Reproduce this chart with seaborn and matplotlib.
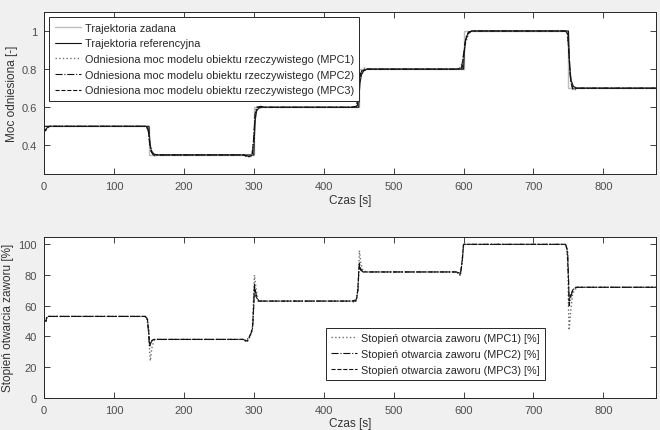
import numpy as np
import pandas as pd
import matplotlib
matplotlib.use("Agg")
import matplotlib.pyplot as plt
import seaborn as sns

# --- moc odniesiona (gorny wykres) ---
zad_t = [0, 150, 150, 300, 300, 450, 450, 600, 600, 750, 750, 875]
zad_v = [0.5, 0.5, 0.35, 0.35, 0.6, 0.6, 0.8, 0.8, 1.0, 1.0, 0.7, 0.7]

ref_t = [0, 150, 151, 152, 154, 157, 162, 300, 301, 302, 304, 307, 312,
         450, 451, 452, 454, 457, 462, 600, 601, 602, 604, 607, 612,
         750, 751, 752, 754, 757, 762, 875]
ref_v = [0.5, 0.5, 0.44, 0.40, 0.37, 0.355, 0.35, 0.35, 0.45, 0.53, 0.58, 0.595, 0.6,
         0.6, 0.68, 0.73, 0.77, 0.79, 0.8, 0.8, 0.88, 0.93, 0.97, 0.99, 1.0,
         1.0, 0.88, 0.8, 0.74, 0.71, 0.7, 0.7]

mpc1_t = [0, 3, 8, 145, 148, 150, 152, 155, 158, 165, 285, 292, 297, 300, 302, 305, 312,
          440, 446, 449, 451, 454, 458, 465, 590, 596, 600, 603, 607, 612,
          745, 748, 750, 752, 755, 758, 765, 875]
mpc1_v = [0.46, 0.48, 0.5, 0.5, 0.49, 0.46, 0.40, 0.36, 0.345, 0.35, 0.35, 0.338, 0.345, 0.40, 0.55, 0.605, 0.6,
          0.6, 0.605, 0.65, 0.74, 0.79, 0.805, 0.8, 0.8, 0.81, 0.86, 0.94, 0.985, 1.0,
          1.0, 0.99, 0.92, 0.8, 0.71, 0.69, 0.7, 0.7]

mpc2_t = [0, 2, 6, 146, 149, 151, 153, 156, 285, 293, 298, 300, 302, 304, 310, 316,
          440, 447, 450, 452, 455, 462, 590, 597, 600, 603, 607, 612,
          746, 749, 751, 753, 756, 762, 875]
mpc2_v = [0.47, 0.48, 0.5, 0.5, 0.48, 0.41, 0.37, 0.35, 0.35, 0.342, 0.35, 0.45, 0.57, 0.6, 0.605, 0.6,
          0.6, 0.605, 0.70, 0.77, 0.795, 0.8, 0.8, 0.805, 0.88, 0.96, 0.995, 1.0,
          1.0, 0.98, 0.86, 0.74, 0.695, 0.7, 0.7]

mpc3_t = [0, 3, 7, 146, 149, 151, 153, 157, 285, 291, 297, 300, 302, 305, 312,
          440, 448, 450, 452, 455, 462, 590, 598, 600, 603, 607, 612,
          746, 749, 751, 753, 756, 762, 875]
mpc3_v = [0.47, 0.485, 0.5, 0.5, 0.485, 0.42, 0.37, 0.35, 0.35, 0.34, 0.345, 0.43, 0.56, 0.6, 0.6,
          0.6, 0.605, 0.69, 0.76, 0.79, 0.8, 0.8, 0.805, 0.87, 0.95, 0.99, 1.0,
          1.0, 0.985, 0.87, 0.75, 0.7, 0.7, 0.7]

# --- stopien otwarcia zaworu (dolny wykres) ---
z1_t = [0, 1, 3, 5, 145, 148, 150, 151, 152, 154, 157, 160, 285, 290, 295, 298, 300, 301, 303, 306, 312,
        440, 445, 448, 450, 451, 453, 456, 462, 590, 595, 597, 599, 600,
        745, 748, 749, 750, 751, 753, 756, 762, 875]
z1_v = [57, 50, 50, 53, 53, 51, 44, 30, 24, 32, 37, 38, 38, 36, 40, 46, 70, 80, 72, 64, 63,
        63, 62, 66, 80, 96, 88, 83, 82, 82, 80, 85, 93, 100,
        100, 97, 90, 60, 44, 55, 68, 72, 72]

z2_t = [0, 1, 3, 4, 144, 147, 149, 150, 151, 153, 156, 285, 289, 294, 298, 299, 300, 301, 303, 306,
        440, 446, 449, 450, 451, 453, 456, 590, 595, 598, 600,
        746, 749, 750, 751, 753, 756, 760, 875]
z2_v = [53, 50, 50, 53, 53, 52, 45, 38, 33, 36, 38, 38, 37, 40, 44, 50, 62, 74, 68, 63,
        63, 63, 70, 80, 88, 84, 82, 82, 80, 88, 100,
        100, 95, 80, 60, 65, 70, 72, 72]

z3_t = [0, 1, 3, 4, 145, 148, 150, 151, 153, 157, 285, 291, 295, 298, 300, 301, 303, 307,
        440, 447, 449, 450, 451, 453, 457, 590, 596, 598, 600,
        746, 748, 750, 751, 753, 757, 762, 875]
z3_v = [53, 50, 50, 53, 53, 51, 42, 35, 37, 38, 38, 37, 41, 45, 60, 72, 66, 63,
        63, 64, 72, 82, 86, 83, 82, 82, 81, 90, 100,
        100, 97, 78, 63, 67, 71, 72, 72]

sns.set_theme(style="white")
plt.rcParams['font.family'] = ['Liberation Sans Narrow', 'Liberation Sans', 'DejaVu Sans']

fig = plt.figure(figsize=(6.6, 4.31), dpi=100)
fig.patch.set_facecolor('#f0f0f0')
ax1 = fig.add_axes([0.0667, 0.594, 0.927, 0.376])
ax2 = fig.add_axes([0.0667, 0.075, 0.927, 0.3735])

kw = dict(estimator=None, sort=False, legend=False)
sns.lineplot(x=zad_t, y=zad_v, ax=ax1, color='#bdbdbd', lw=1.0, **kw)
sns.lineplot(x=ref_t, y=ref_v, ax=ax1, color='#111111', lw=0.8, **kw)
sns.lineplot(x=mpc1_t, y=mpc1_v, ax=ax1, color='#707070', lw=1.0, linestyle=':', **kw)
sns.lineplot(x=mpc2_t, y=mpc2_v, ax=ax1, color='#111111', lw=0.8, linestyle='-.', **kw)
sns.lineplot(x=mpc3_t, y=mpc3_v, ax=ax1, color='#111111', lw=0.8, linestyle='--', **kw)

sns.lineplot(x=z1_t, y=z1_v, ax=ax2, color='#707070', lw=1.0, linestyle=':', **kw)
sns.lineplot(x=z2_t, y=z2_v, ax=ax2, color='#111111', lw=0.8, linestyle='-.', **kw)
sns.lineplot(x=z3_t, y=z3_v, ax=ax2, color='#111111', lw=0.8, linestyle='--', **kw)

ax1.set_xlim(0, 875)
ax1.set_ylim(0.25, 1.1)
ax1.set_yticks([0.4, 0.6, 0.8, 1.0])
ax1.set_yticklabels(['0.4', '0.6', '0.8', '1'])
ax2.set_xlim(0, 875)
ax2.set_ylim(0, 105)
ax2.set_yticks([0, 20, 40, 60, 80, 100])

for ax in (ax1, ax2):
    ax.set_facecolor('white')
    ax.set_xticks(np.arange(0, 900, 100))
    ax.tick_params(direction='in', length=4, width=0.6, top=True, right=True,
                   bottom=True, left=True, labelsize=8, colors='#222222',
                   labelcolor='#4d4d4d', pad=5)
    for s in ax.spines.values():
        s.set_color('#262626')
        s.set_linewidth(0.7)
    ax.set_xlabel('Czas [s]', fontsize=8.5, color='#333333', labelpad=2)

ax1.set_ylabel('Moc odniesiona [-]', fontsize=8.5, color='#333333', labelpad=3)
ax2.set_ylabel('Stopień otwarcia zaworu [%]', fontsize=8.5, color='#333333', labelpad=3)

leg_kw = dict(fontsize=7.8, fancybox=False, edgecolor='#262626', framealpha=1,
              handlelength=2.4, handletextpad=0.35, labelspacing=0.52, borderpad=0.5)

leg1 = ax1.legend(ax1.get_lines(),
                  ['Trajektoria zadana', 'Trajektoria referencyjna',
                   'Odniesiona moc modelu obiektu rzeczywistego (MPC1)',
                   'Odniesiona moc modelu obiektu rzeczywistego (MPC2)',
                   'Odniesiona moc modelu obiektu rzeczywistego (MPC3)'],
                  loc='upper left', borderaxespad=0.5, **leg_kw)
leg1.get_frame().set_linewidth(0.7)

leg2 = ax2.legend(ax2.get_lines(),
                  ['Stopień otwarcia zaworu (MPC1) [%]',
                   'Stopień otwarcia zaworu (MPC2) [%]',
                   'Stopień otwarcia zaworu (MPC3) [%]'],
                  loc='lower left', bbox_to_anchor=(0.461, 0.11), borderaxespad=0, **leg_kw)
leg2.get_frame().set_linewidth(0.7)

fig.savefig('out.png', dpi=100, facecolor=fig.get_facecolor())
